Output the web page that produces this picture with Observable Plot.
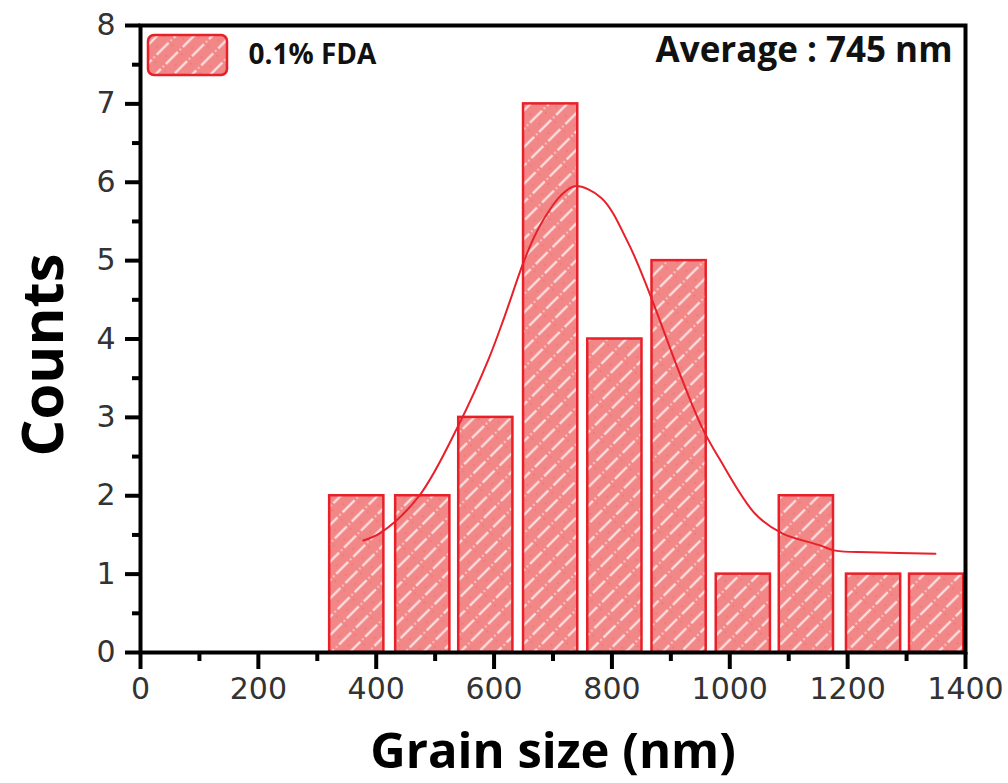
<!DOCTYPE html>
<html>
<head>
<meta charset="utf-8">
<script src="https://cdn.jsdelivr.net/npm/d3@7"></script>
<script src="https://cdn.jsdelivr.net/npm/@observablehq/plot@0.6"></script>
<style>
  html, body { margin: 0; padding: 0; background: #fff; }
</style>
</head>
<body>
<div id="chart"></div>
<script>
// ---- data ----
const binCenters = [367, 479, 586, 696, 805, 914, 1023, 1130, 1244, 1351];
const counts     = [2, 2, 3, 7, 4, 5, 1, 2, 1, 1];
const barHalfWidth = 46; // half of the drawn bar width in nm

// fitted curve, points
const fitX = [378, 408, 473, 541, 590, 617, 650, 668, 686, 712, 737, 782, 828, 864, 913, 953, 981, 1043, 1089, 1152, 1179, 1237, 1349];
const fitY = [1.43, 1.53, 2.00, 2.92, 3.73, 4.27, 4.98, 5.30, 5.55, 5.82, 5.95, 5.80, 5.22, 4.58, 3.60, 2.87, 2.49, 1.77, 1.52, 1.37, 1.30, 1.28, 1.26];

const xTicks = [0, 200, 400, 600, 800, 1000, 1200, 1400];
const xMinorTicks = [100, 300, 500, 700, 900, 1100, 1300];
const yTicks = [0, 1, 2, 3, 4, 5, 6, 7, 8];
const yMinorTicks = [0.5, 1.5, 2.5, 3.5, 4.5, 5.5, 6.5, 7.5];

const seriesName = "0.1% FDA";
const averageLabel = "Average : 745 nm";
const xLabel = "Grain size (nm)";
const yLabel = "Counts";

// ---- layout ----
const W = 1008, H = 783;
const mL = 140, mR = 43, mT = 25, mB = 131;
const fw = W - mL - mR, fh = H - mT - mB;

// ---- chart ----
const bars = binCenters.map((c, i) => ({x1: c - barHalfWidth, x2: c + barHalfWidth, y: counts[i]}));
const fit = fitX.map((x, i) => ({x, y: fitY[i]}));

const RED = "#e8202a";
const tickFont = "DejaVu Sans, sans-serif";
const titleFont = "'Open Sans', sans-serif";

const chart = Plot.plot({
  width: W,
  height: H,
  marginLeft: mL,
  marginRight: mR,
  marginTop: mT,
  marginBottom: mB,
  style: {background: "#fff", overflow: "visible"},
  x: {domain: [0, 1400]},
  y: {domain: [0, 8]},
  marks: [
    Plot.rectY(bars, {x1: "x1", x2: "x2", y: "y", fill: "url(#hatch)", stroke: RED, strokeWidth: 2.5}),
    Plot.line(fit, {x: "x", y: "y", stroke: RED, strokeWidth: 2, curve: "catmull-rom"}),
    Plot.frame({stroke: "#000", strokeWidth: 4}),
    // outward tick marks
    Plot.tickX(xTicks, {x: d => d, stroke: "#000", strokeWidth: 4, insetTop: fh, insetBottom: -17}),
    Plot.tickX(xMinorTicks, {x: d => d, stroke: "#000", strokeWidth: 4, insetTop: fh, insetBottom: -9}),
    Plot.tickY(yTicks, {y: d => d, stroke: "#000", strokeWidth: 4, insetLeft: -15, insetRight: fw}),
    Plot.tickY(yMinorTicks, {y: d => d, stroke: "#000", strokeWidth: 4, insetLeft: -8, insetRight: fw}),
    // tick labels
    Plot.axisX({ticks: xTicks, tickSize: 0, tickPadding: 25, fontSize: 30, fill: "#333",
      fontFamily: tickFont, label: null, tickFormat: d => String(d)}),
    Plot.axisY({ticks: yTicks, tickSize: 0, tickPadding: 25, fontSize: 30, fill: "#333",
      fontFamily: tickFont, label: null}),
    // titles
    Plot.text([xLabel], {frameAnchor: "bottom", dy: 100, textAnchor: "middle", lineAnchor: "middle", fontSize: 49,
      fontWeight: "bold", fontFamily: titleFont, fill: "#000"}),
    Plot.text([yLabel], {frameAnchor: "left", dx: -96, dy: 16, rotate: -90, textAnchor: "middle", lineAnchor: "middle",
      fontSize: 58, fontWeight: "bold", fontFamily: titleFont, fill: "#000"}),
    Plot.text([seriesName], {frameAnchor: "top-left", dx: 108, dy: 30, textAnchor: "start", lineAnchor: "middle",
      fontSize: 28, fontWeight: "bold", fontFamily: titleFont, fill: "#111"}),
    Plot.text([averageLabel], {frameAnchor: "top-right", dx: -13, dy: 25, textAnchor: "end", lineAnchor: "middle",
      fontSize: 35, fontWeight: "bold", fontFamily: titleFont, fill: "#111"})
  ]
});

// hatch pattern definition
const svg = d3.select(chart);
const defs = svg.insert("defs", ":first-child");
const pat = defs.append("pattern")
  .attr("id", "hatch")
  .attr("patternUnits", "userSpaceOnUse")
  .attr("width", 24).attr("height", 13)
  .attr("patternTransform", "rotate(-45)");
pat.append("rect").attr("width", 24).attr("height", 13).attr("fill", "#f28787");
pat.append("line").attr("x1", 0).attr("y1", 6.5).attr("x2", 17).attr("y2", 6.5)
  .attr("stroke", "#fff").attr("stroke-width", 2).attr("opacity", 0.85);
pat.append("circle").attr("cx", 20.5).attr("cy", 6.5).attr("r", 1).attr("fill", "#fff").attr("opacity", 0.7);
pat.append("circle").attr("cx", 6).attr("cy", 1).attr("r", 0.7).attr("fill", "#e04040").attr("opacity", 0.5);
pat.append("circle").attr("cx", 18).attr("cy", 11).attr("r", 0.7).attr("fill", "#e04040").attr("opacity", 0.5);

// legend swatch, placed relative to the frame
svg.append("rect")
  .attr("x", mL + 8).attr("y", mT + 10)
  .attr("width", 79).attr("height", 40)
  .attr("rx", 6).attr("ry", 6)
  .attr("fill", "url(#hatch)").attr("stroke", RED).attr("stroke-width", 2.5);

document.getElementById("chart").appendChild(chart);
</script>
</body>
</html>
